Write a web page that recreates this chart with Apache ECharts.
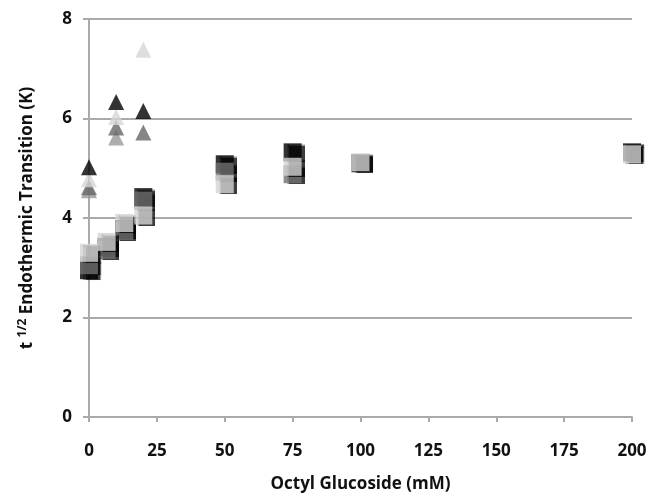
<!DOCTYPE html>
<html><head><meta charset="utf-8">
<script src="https://cdn.jsdelivr.net/npm/echarts@6/dist/echarts.min.js"></script>
<style>html,body{margin:0;padding:0;background:#fff}#c{width:649px;height:494px}</style>
</head><body><div id="c"></div>
<script>
const xTri = [0, 10, 20];
const triBlack = [5.02, 6.33, 6.15];
const triDark = [4.62, 5.82, 5.72];
const triMed = [4.56, 5.62, null];
const triLight = [4.78, 6.03, 7.38];

const xSq = [0, 6.5, 13, 20, 50, 75, 100, 200];
const sqBlack = [2.95, 3.42, 3.78, 4.42, 5.08, 5.32, 5.1, 5.32];
const sqDark = [3.05, 3.36, 3.74, 4.35, 4.93, 4.88, null, null];
const sqLight = [3.3, 3.52, 3.9, 4.05, 4.68, 5.03, 5.12, 5.28];

const xTicks = [0, 25, 50, 75, 100, 125, 150, 175, 200];
const yTicks = [0, 2, 4, 6, 8];

function pairs(xs, ys) { return xs.map((x, i) => [x, ys[i]]).filter(p => p[1] != null); }

const FONT = '"Open Sans", "DejaVu Sans", sans-serif';
const sqShadow = { shadowColor: 'rgba(0,0,0,0.95)', shadowBlur: 1, shadowOffsetX: 3, shadowOffsetY: 1 };

function tri(name, xs, ys, color) {
  return { name, type: 'scatter', symbol: 'triangle', symbolSize: 16, data: pairs(xs, ys), itemStyle: { color } };
}
function sq(name, xs, ys, color) {
  return { name, type: 'scatter', symbol: 'rect', symbolSize: 18, data: pairs(xs, ys), itemStyle: Object.assign({ color }, sqShadow) };
}

const chart = echarts.init(document.getElementById('c'), null, { renderer: 'canvas' });
chart.setOption({
  animation: false,
  backgroundColor: '#fff',
  grid: { left: 89, right: 17, top: 19, bottom: 77, containLabel: false, outerBoundsMode: 'none' },
  xAxis: {
    type: 'value', min: xTicks[0], max: xTicks[xTicks.length - 1], interval: 25,
    name: 'Octyl Glucoside (mM)', nameLocation: 'middle', nameGap: 59,
    nameTextStyle: { fontFamily: FONT, fontWeight: 'bold', fontSize: 17, color: '#111' },
    axisLine: { lineStyle: { color: '#aaa', width: 2 } },
    axisTick: { show: true, length: 5, lineStyle: { color: '#aaa', width: 2 } },
    axisLabel: { fontFamily: FONT, fontWeight: 'bold', fontSize: 17, color: '#111', margin: 26 },
    splitLine: { show: false }
  },
  yAxis: {
    type: 'value', min: yTicks[0], max: yTicks[yTicks.length - 1], interval: 2,
    name: '{a|t }{s|1/2}{a| Endothermic Transition (K)}', nameLocation: 'middle', nameGap: 50,
    nameTextStyle: { rich: {
      a: { fontFamily: FONT, fontWeight: 'bold', fontSize: 17, color: '#111', lineHeight: 24 },
      s: { fontFamily: FONT, fontWeight: 'bold', fontSize: 12, color: '#111', lineHeight: 24, padding: [0, 0, 8, 0] }
    } },
    axisLine: { show: true, lineStyle: { color: '#aaa', width: 2 } },
    axisTick: { show: true, length: 6, lineStyle: { color: '#aaa', width: 2 } },
    axisLabel: { fontFamily: FONT, fontWeight: 'bold', fontSize: 17, color: '#111', margin: 17 },
    splitLine: { show: true, lineStyle: { color: '#aaa', width: 2 } }
  },
  series: [
    tri('triMed', xTri, triMed, '#999999'),
    tri('triDark', xTri, triDark, '#666666'),
    tri('triLight', xTri, triLight, '#d6d6d6'),
    tri('triBlack', xTri, triBlack, '#000000'),
    sq('sqBlack', xSq, sqBlack, '#000000'),
    sq('sqDark', xSq, sqDark, '#707070'),
    sq('sqLight', xSq, sqLight, '#d4d4d4')
  ]
});
</script></body></html>
